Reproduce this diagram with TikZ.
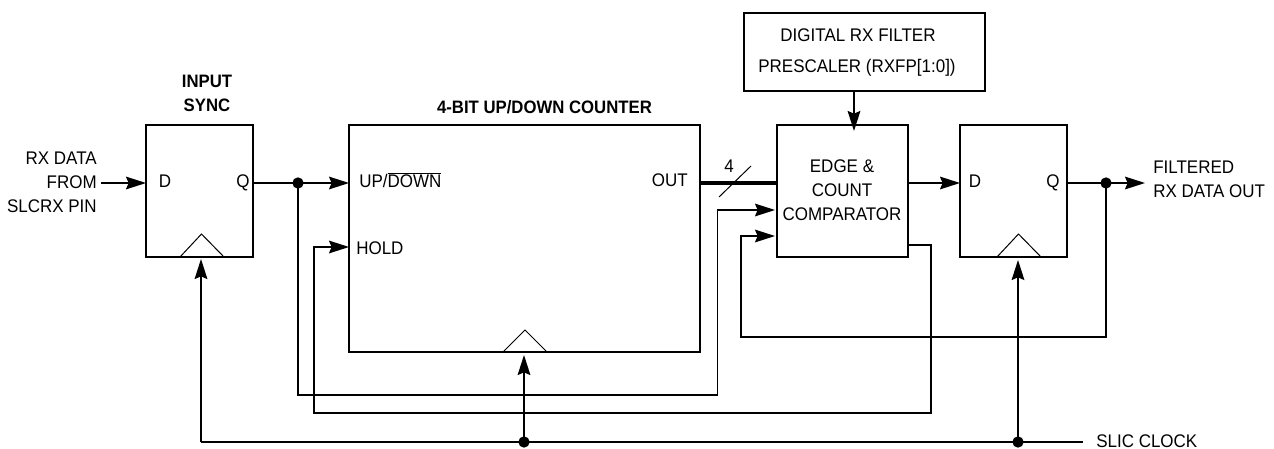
\documentclass[tikz,border=0pt]{standalone}
\usepackage{fontspec}
\setmainfont[FakeStretch=0.93]{Liberation Sans}
\usetikzlibrary{arrows.meta}
\tikzset{
  x=0.75pt,y=-0.75pt,
  box/.style={draw,line width=1.35pt,inner sep=0pt,outer sep=0pt},
  wire/.style={line width=1.35pt,line cap=butt},
  arr/.style={wire,-{Stealth[length=15pt,width=9.5pt,inset=2pt]}},
  thin line/.style={line width=0.75pt},
  dot/.style={circle,fill=black,inner sep=0pt,minimum size=8.5pt},
  lbl/.style={inner sep=0pt,font=\fontsize{13.7}{18}\selectfont,text height=9.8pt,text depth=0pt},
  blk/.style={inner sep=0pt,font=\fontsize{13.7}{18}\selectfont},
  ttl/.style={inner sep=0pt,font=\fontsize{13.5}{18}\selectfont\bfseries}
}
\begin{document}
\begin{tikzpicture}
\useasboundingbox (0,0) rectangle (1274,449);
% boxes
\node[box,minimum width=80.25pt,minimum height=99pt] (sync) at (199.5,191) {};
\node[box,minimum width=263.25pt,minimum height=170.25pt] (cnt) at (524.5,238.5) {};
\node[box,minimum width=98.25pt,minimum height=99pt] (cmp) at (842.5,191) {};
\node[box,minimum width=80.25pt,minimum height=99pt] (ff) at (1013.5,191) {};
\node[box,minimum width=180.75pt,minimum height=58pt] (pre) at (864.5,52) {};
% clock triangles
\coordinate (t1l) at (180,257); \coordinate (t1a) at (201.5,234); \coordinate (t1r) at (224,257);
\coordinate (t2l) at (503,352); \coordinate (t2a) at (525,330); \coordinate (t2r) at (547,352);
\coordinate (t3l) at (997,257); \coordinate (t3a) at (1018.5,234); \coordinate (t3r) at (1041,257);
\draw[thin line] (t1l) -- (t1a) -- (t1r);
\draw[thin line] (t2l) -- (t2a) -- (t2r);
\draw[thin line] (t3l) -- (t3a) -- (t3r);
% free ends and bends
\coordinate (in) at (101,183);
\coordinate (j1) at (298,183);
\coordinate (j1b) at (298,395);
\coordinate (j1c) at (717.5,395);
\coordinate (j1d) at (717.5,210);
\coordinate (h1) at (314,247);
\coordinate (h2) at (314,413);
\coordinate (h3) at (931,413);
\coordinate (h4) at (931,245);
\coordinate (j2) at (1106,183);
\coordinate (j2b) at (1106,337);
\coordinate (j2c) at (741,337);
\coordinate (j2d) at (741,236);
\coordinate (out) at (1145,183);
\coordinate (c1) at (201,442);
\coordinate (c1t) at (201,259);
\coordinate (c2) at (524,442);
\coordinate (c2t) at (524,355);
\coordinate (c3) at (1018,442);
\coordinate (c3t) at (1018,260);
\coordinate (c4) at (1083,442);
\coordinate (s1) at (719,197);
\coordinate (s2) at (751,166);
\coordinate (pb) at (854,90.5);
\coordinate (pt) at (854,131);
% wires
\draw[arr] (in) -- (sync.west |- in);
\draw[arr] (sync.east |- j1) -- (cnt.west |- j1);
\draw[arr] (j1) -- (j1b) -- (j1c) -- (j1d) -- ([xshift=-1.5pt]cmp.west |- j1d);
\draw[arr] (cmp.east |- h4) -- (h4) -- (h3) -- (h2) -- (h1) -- (cnt.west |- h1);
\draw[line width=3pt] (cnt.east |- j1) -- (cmp.west |- j1);
\draw[thin line] (s1) -- (s2);
\draw[arr] (cmp.east |- j1) -- (ff.west |- j1);
\draw[arr] (ff.east |- j1) -- (out);
\draw[arr] (j2) -- (j2b) -- (j2c) -- (j2d) -- ([xshift=-1.5pt]cmp.west |- j2d);
\draw[arr] (pb) -- (pt);
\draw[wire] (c4) -- (c1);
\draw[arr] (c1) -- (c1t);
\draw[arr] (c2) -- (c2t);
\draw[arr] (c3) -- (c3t);
% dots
\node[dot] (d1) at (j1) {};
\node[dot] (d2) at (j2) {};
\node[dot] (d3) at (c2) {};
\node[dot] (d4) at (c3) {};
% labels
\node[blk,align=right,anchor=east] (lin) at (97,182) {RX DATA\\FROM\\SLCRX PIN};
\node[ttl,align=center] (lsync) at (207,93) {INPUT\\SYNC};
\node[ttl] (lcnt) at (544.5,107) {4-BIT UP/DOWN COUNTER};
\node[lbl] (ld1) at (165,181) {D};
\node[lbl] (lq1) at (243,181) {Q};
\node[lbl,anchor=west] (lup) at (359,181) {UP/$\overline{\mbox{DOWN}}$};
\node[lbl,anchor=west] (lhold) at (356,248) {HOLD};
\node[lbl,anchor=east] (lout) at (688,180) {OUT};
\node[lbl] (l4) at (729,166) {4};
\node[blk,align=center] (lcmp) at (842,190) {EDGE \&\\COUNT\\COMPARATOR};
\node[lbl] (lpre1) at (858,35) {DIGITAL RX FILTER};
\node[lbl] (lpre2) at (857,66) {PRESCALER (RXFP[1:0])};
\node[lbl] (ld2) at (975,181) {D};
\node[lbl] (lq2) at (1053,181) {Q};
\node[blk,align=left,anchor=west] (lfilt) at (1153,179.5) {FILTERED\\RX DATA OUT};
\node[lbl,anchor=west] (lclk) at (1096,440.5) {SLIC CLOCK};
\end{tikzpicture}
\end{document}
